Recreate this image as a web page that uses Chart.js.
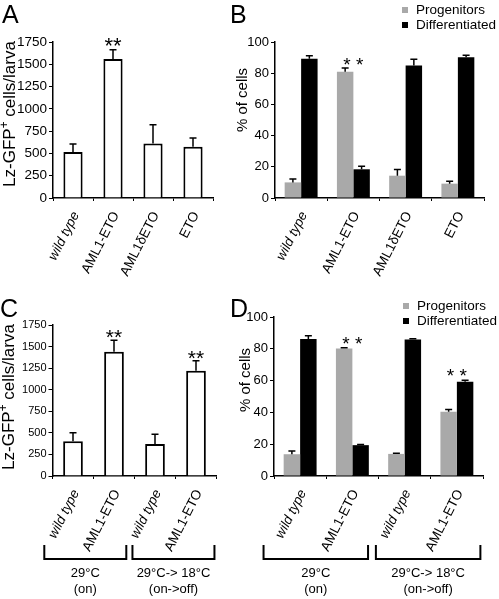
<!DOCTYPE html>
<html>
<head>
<meta charset="utf-8">
<script src="https://cdn.jsdelivr.net/npm/chart.js@4"></script>
<style>
  html, body { margin: 0; padding: 0; background: #fff; }
  #wrap { position: relative; width: 499px; height: 599px; overflow: hidden; }
  #wrap canvas { position: absolute; left: 0; top: 0; }
</style>
</head>
<body>
<div id="wrap">
  <canvas id="panel-a" width="499" height="599"></canvas>
  <canvas id="panel-b" width="499" height="599"></canvas>
  <canvas id="panel-c" width="499" height="599"></canvas>
  <canvas id="panel-d" width="499" height="599"></canvas>
</div>
<script>
// ---- data ----
const catsAB = ['wild type', 'AML1-ETO', 'AML1δETO', 'ETO'];
const catsCD = ['wild type', 'AML1-ETO', 'wild type', 'AML1-ETO'];
const countTicks = [0, 250, 500, 750, 1000, 1250, 1500, 1750];
const pctTicks = [0, 20, 40, 60, 80, 100];

// A: Lz-GFP+ cells per larva (mean, SEM)
const countsA = [516, 1559, 610, 576];
const countsAErr = [90, 105, 213, 97];
const sigA = [false, true, false, false];

// B: % of cells
const progB = [10.0, 81.0, 14.3, 9.2];
const progBErr = [2.2, 2.3, 3.9, 1.5];
const diffB = [89.3, 18.4, 85.0, 90.2];
const diffBErr = [1.9, 1.9, 3.9, 1.3];
const sigB = [false, true, false, false];

// C: temperature shift, Lz-GFP+ cells per larva
const countsC = [402, 1441, 371, 1221];
const countsCErr = [100, 131, 112, 116];
const sigC = [false, true, false, true];

// D: temperature shift, % of cells
const progD = [13.7, 80.2, 13.9, 40.4];
const progDErr = [2.1, 0.4, 0.4, 1.5];
const diffD = [86.1, 19.4, 85.9, 59.2];
const diffDErr = [2.1, 0.4, 0.4, 1.0];
const sigD = [false, true, false, true];

// brackets under C and D; lead/trail are in category widths
const groupsCD = [
  { from: 0, to: 1, lead: 0.7, trail: 0.3, lines: ['29°C', '(on)'] },
  { from: 2, to: 3, lead: 0.55, trail: 0.45, lines: ['29°C-> 18°C', '(on->off)'] }
];

const FONT = "'Liberation Sans', Arial, Helvetica, sans-serif";
const GREY = '#a9a9a9';
Chart.defaults.font.family = FONT;
Chart.defaults.color = '#000';

// error bars, asterisks, letters, titles, legend, brackets
const extras = {
  id: 'extras',
  afterDatasetsDraw(chart, args, o) {
    const ctx = chart.ctx, x = chart.scales.x, y = chart.scales.y;
    ctx.save();
    ctx.strokeStyle = '#000';
    ctx.fillStyle = '#000';
    ctx.lineWidth = 1.5;

    chart.data.datasets.forEach((ds, di) => {
      chart.getDatasetMeta(di).data.forEach((bar, i) => {
        const top = y.getPixelForValue(ds.data[i] + o.errs[di][i]);
        ctx.beginPath();
        ctx.moveTo(bar.x, bar.y);
        ctx.lineTo(bar.x, top);
        ctx.moveTo(bar.x - o.cap, top);
        ctx.lineTo(bar.x + o.cap, top);
        ctx.stroke();
      });
    });

    ctx.font = o.starSize + 'px ' + FONT;
    ctx.textAlign = 'center';
    ctx.textBaseline = 'alphabetic';
    o.sig.forEach((s, i) => {
      if (!s) return;
      let hi = 0;
      chart.data.datasets.forEach((ds, di) => { hi = Math.max(hi, ds.data[i] + o.errs[di][i]); });
      const cy = y.getPixelForValue(hi) - o.starGap;
      ctx.fillText(o.star, x.getPixelForValue(i), cy + 0.57 * o.starSize);
    });

    // panel letter
    ctx.textAlign = 'left';
    ctx.font = '25px ' + FONT;
    ctx.fillText(o.letter[0], o.letter[1], o.letter[2]);

    // y title (with optional superscript part)
    ctx.save();
    ctx.translate(o.title.x, o.title.y);
    ctx.rotate(-Math.PI / 2);
    ctx.textBaseline = 'middle';
    const fs = o.title.size;
    const parts = o.title.parts;
    const widths = parts.map(p => { ctx.font = (p.sup ? fs * 0.7 : fs) + 'px ' + FONT; return ctx.measureText(p.t).width; });
    let px = -widths.reduce((a, b) => a + b, 0) / 2;
    parts.forEach((p, k) => {
      ctx.font = (p.sup ? fs * 0.7 : fs) + 'px ' + FONT;
      ctx.fillText(p.t, px, p.sup ? -fs * 0.3 : 0);
      px += widths[k];
    });
    ctx.restore();

    // legend
    if (o.legend) {
      ctx.font = '13.5px ' + FONT;
      ctx.textBaseline = 'middle';
      chart.data.datasets.forEach((ds, di) => {
        const ly = o.legend.y + di * o.legend.step;
        ctx.fillStyle = ds.backgroundColor;
        ctx.fillRect(o.legend.x, ly - 3, 6, 6);
        ctx.fillStyle = '#000';
        ctx.fillText(ds.label, o.legend.x + 14, ly);
      });
    }

    // group brackets
    if (o.groups) {
      const w = Math.abs(x.getPixelForValue(1) - x.getPixelForValue(0));
      ctx.lineWidth = 2;
      ctx.font = '13px ' + FONT;
      ctx.textAlign = 'center';
      ctx.textBaseline = 'middle';
      o.groups.forEach(g => {
        const l = x.getPixelForValue(g.from) - g.lead * w;
        const r = x.getPixelForValue(g.to) + g.trail * w;
        ctx.beginPath();
        ctx.moveTo(l, o.bracketY - 14);
        ctx.lineTo(l, o.bracketY);
        ctx.lineTo(r, o.bracketY);
        ctx.lineTo(r, o.bracketY - 14);
        ctx.stroke();
        g.lines.forEach((t, k) => ctx.fillText(t, (l + r) / 2, o.bracketY + 14 + k * 16));
      });
    }
    ctx.restore();
  }
};

function panel(id, o) {
  const a = o.area;
  const xH = 100;
  return new Chart(document.getElementById(id), {
    type: 'bar',
    data: { labels: o.labels, datasets: o.datasets },
    options: {
      responsive: false,
      animation: false,
      events: [],
      layout: { padding: { left: 0, top: a.top, right: 499 - a.right, bottom: 599 - a.bottom - xH } },
      plugins: { legend: { display: false }, tooltip: { enabled: false }, extras: o.extras },
      scales: {
        x: {
          afterFit: s => { s.height = xH; },
          grid: { display: true, offset: true, drawOnChartArea: false, drawTicks: true, tickLength: 3, color: '#000', lineWidth: 1 },
          border: { display: true, color: '#000', width: 1.5 },
          ticks: {
            color: '#000', minRotation: 63, maxRotation: 63, autoSkip: false, padding: 8, labelOffset: 3,
            font: c => ({ family: FONT, size: 13.5, style: c.tick && c.tick.label === 'wild type' ? 'italic' : 'normal' })
          }
        },
        y: {
          min: 0,
          max: o.ticks[o.ticks.length - 1],
          afterFit: s => { s.width = a.left; },
          afterBuildTicks: s => { s.ticks = o.ticks.map(v => ({ value: v })); },
          grid: { display: true, drawOnChartArea: false, drawTicks: true, tickLength: 4, color: '#000', lineWidth: 1 },
          border: { display: true, color: '#000', width: 1.5 },
          ticks: { color: '#000', padding: 2, font: { family: FONT, size: o.ySize }, callback: v => String(v) }
        }
      }
    },
    plugins: [extras]
  });
}

const lzTitle = [{ t: 'Lz-GFP' }, { t: '+', sup: true }, { t: ' cells/larva' }];
const pctTitle = [{ t: '% of cells' }];

const whiteBar = data => ({
  data, backgroundColor: '#fff', borderColor: '#000', borderWidth: 2,
  borderSkipped: 'start', barPercentage: 0.48, categoryPercentage: 1
});
const pairBar = (label, data, color) => ({
  label, data, backgroundColor: color, borderWidth: 0,
  barPercentage: 1, categoryPercentage: 0.63
});

panel('panel-a', {
  area: { left: 53, top: 42, right: 213, bottom: 198 },
  labels: catsAB, ticks: countTicks, ySize: 13.5,
  datasets: [whiteBar(countsA)],
  extras: {
    errs: [countsAErr], sig: sigA, cap: 3.5, star: '**', starSize: 22, starGap: 9,
    letter: ['A', 2, 23],
    title: { x: 10, y: 114, size: 17, parts: lzTitle }
  }
});

panel('panel-b', {
  area: { left: 275, top: 42, right: 484, bottom: 198 },
  labels: catsAB, ticks: pctTicks, ySize: 13,
  datasets: [pairBar('Progenitors', progB, GREY), pairBar('Differentiated', diffB, '#000')],
  extras: {
    errs: [progBErr, diffBErr], sig: sigB, cap: 3.5, star: '* *', starSize: 19, starGap: 8,
    letter: ['B', 230, 23],
    title: { x: 243, y: 100, size: 15, parts: pctTitle },
    legend: { x: 402, y: 10, step: 15 }
  }
});

panel('panel-c', {
  area: { left: 52.5, top: 325, right: 216.5, bottom: 476 },
  labels: catsCD, ticks: countTicks, ySize: 11,
  datasets: [whiteBar(countsC)],
  extras: {
    errs: [countsCErr], sig: sigC, cap: 3.5, star: '**', starSize: 21, starGap: 8,
    letter: ['C', 0, 317],
    title: { x: 9, y: 397, size: 17, parts: lzTitle },
    groups: groupsCD, bracketY: 559
  }
});

panel('panel-d', {
  area: { left: 274, top: 317, right: 483, bottom: 476 },
  labels: catsCD, ticks: pctTicks, ySize: 13,
  datasets: [pairBar('Progenitors', progD, GREY), pairBar('Differentiated', diffD, '#000')],
  extras: {
    errs: [progDErr, diffDErr], sig: sigD, cap: 3.5, star: '* *', starSize: 19, starGap: 9,
    letter: ['D', 230, 317],
    title: { x: 246, y: 380, size: 15, parts: pctTitle },
    legend: { x: 403, y: 306, step: 15 },
    groups: groupsCD, bracketY: 559
  }
});
</script>
</body>
</html>
